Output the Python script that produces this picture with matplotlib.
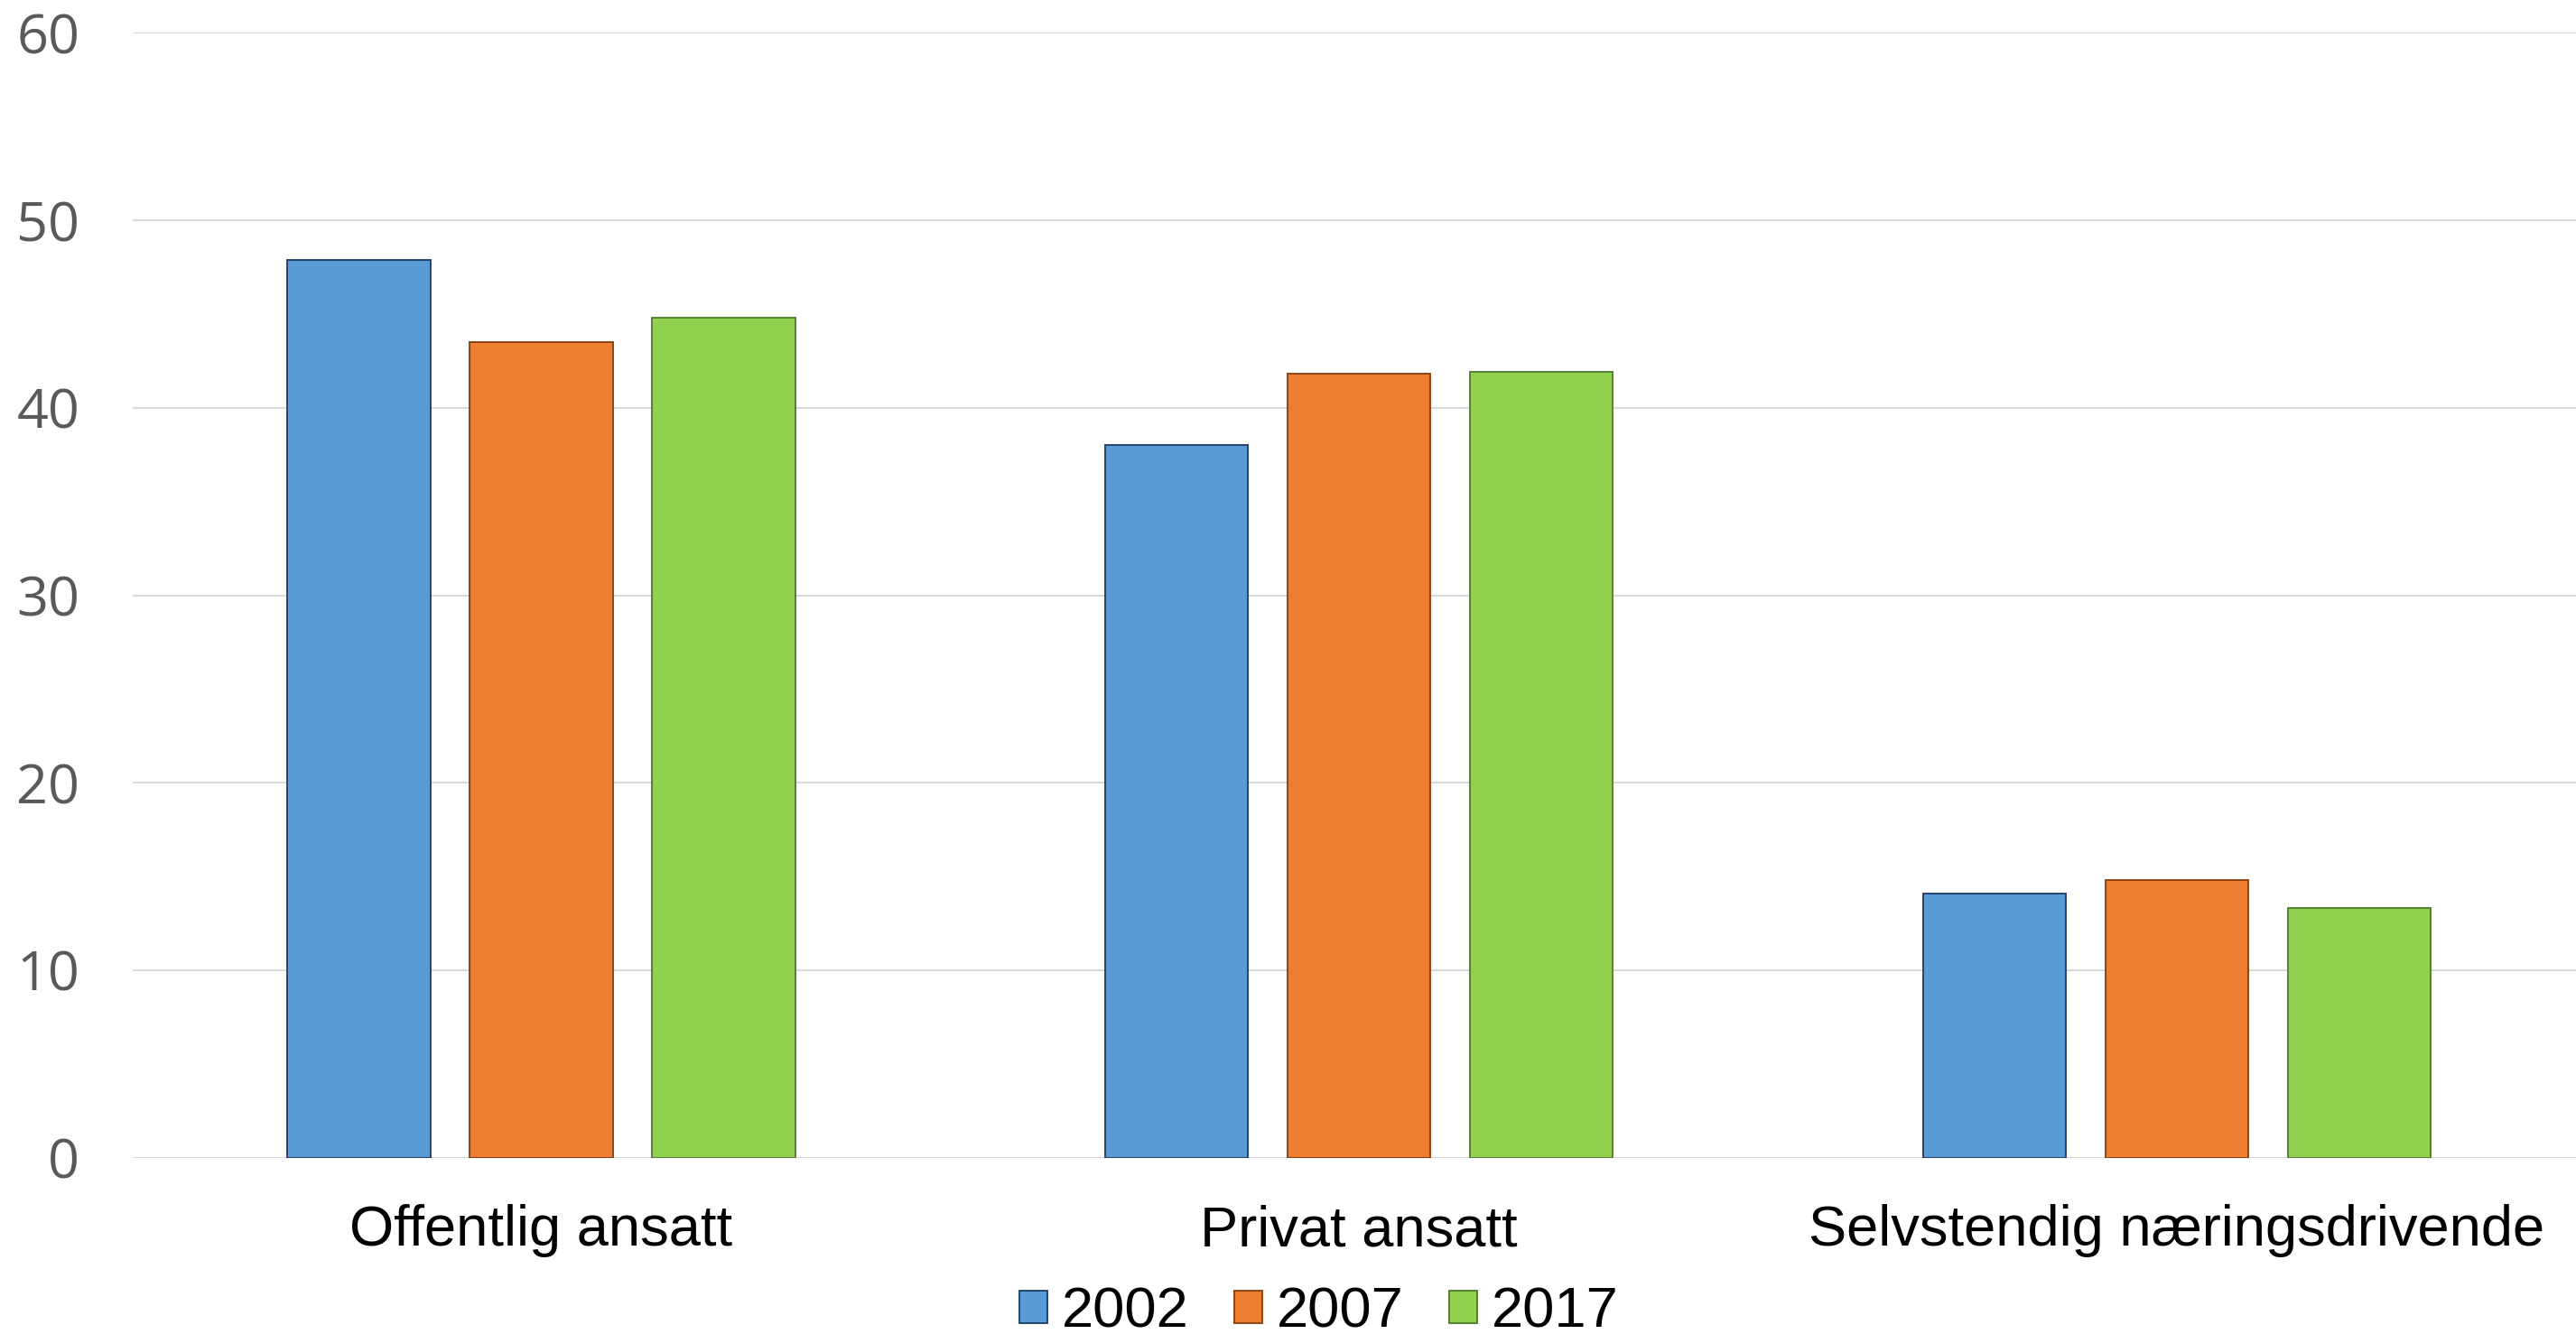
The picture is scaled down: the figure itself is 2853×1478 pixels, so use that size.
import matplotlib
matplotlib.use("Agg")
import matplotlib.pyplot as plt
import numpy as np

categories = ["Offentlig ansatt", "Privat ansatt", "Selvstendig næringsdrivende"]
years = ["2002", "2007", "2017"]
v2002 = [47.9, 38.0, 14.1]
v2007 = [43.5, 41.8, 14.8]
v2017 = [44.8, 41.9, 13.3]
yticks = [0, 10, 20, 30, 40, 50, 60]

series = [v2002, v2007, v2017]
fills = ["#5B9BD5", "#ED7D31", "#92D050"]
edges = ["#203864", "#843C0C", "#4C7A2A"]

W, H = 2853, 1478
dpi = 100
fig = plt.figure(figsize=(W / dpi, H / dpi), dpi=dpi)
left = 146.7 / W
bottom = 1 - 1282.7 / H
top = 1 - 36.4 / H
ax = fig.add_axes([left, bottom, 2717 / W, top - bottom])

x = np.arange(len(categories))
bw = 0.175
step = 0.223
for i, (vals, fc, ec, yr) in enumerate(zip(series, fills, edges, years)):
    ax.bar(x + (i - 1) * step, vals, width=bw, color=fc, edgecolor=ec,
           linewidth=1.3, label=yr, zorder=3)

ax.set_xlim(-0.5, 2.5)
ax.set_ylim(0, 60)
ax.set_yticks(yticks)
ax.set_xticks(x)
ax.set_xticklabels(categories, fontfamily="Liberation Sans", fontsize=45.5, color="black")
ax.set_yticklabels([str(t) for t in yticks], fontfamily="Open Sans", fontsize=44, color="#595959")
ax.tick_params(axis="x", length=0, pad=37)
ax.tick_params(axis="y", length=0, pad=42)
ax.grid(axis="y", color="#D9D9D9", linewidth=1.5, zorder=0)
for s in ax.spines.values():
    s.set_visible(False)

leg = fig.legend(loc="center", bbox_to_anchor=(0.512, 1 - 1454 / H), ncol=3,
                 frameon=False, prop={"family": "Liberation Sans", "size": 45.5},
                 handlelength=0.49, handleheight=0.49, handletextpad=0.25,
                 columnspacing=0.8, borderpad=0, borderaxespad=0)

fig.savefig("out.png", dpi=dpi, facecolor="white")
